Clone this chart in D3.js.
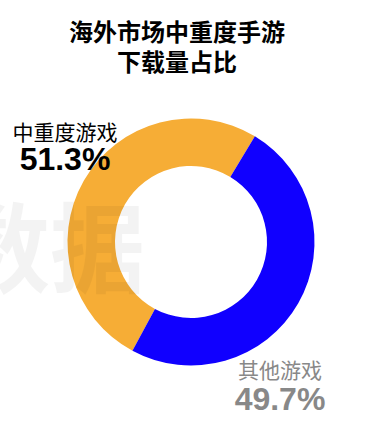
<!DOCTYPE html>
<html>
<head>
<meta charset="utf-8">
<script src="https://cdn.jsdelivr.net/npm/d3@7"></script>
<style>
  body { margin: 0; background: #fff; }
  svg { display: block; }
</style>
</head>
<body>
<svg id="chart" width="379" height="435"></svg>
<script>
// data
var categories = ["中重度游戏", "其他游戏"];
var values = [51.3, 49.7];
var labels = ["51.3%", "49.7%"];
var colors = ["#F6AD36", "#1000FF"];
var titleLines = ["海外市场中重度手游", "下载量占比"];

var svg = d3.select("#chart");
var cjk = "'Noto Sans CJK SC', 'Noto Sans', sans-serif";
var num = "'Liberation Sans', Arial, sans-serif";

// title
svg.selectAll("text.title")
    .data(titleLines)
    .enter()
    .append("text")
    .attr("class", "title")
    .attr("x", 177)
    .attr("y", function(d, i) { return 41 + i * 30; })
    .attr("text-anchor", "middle")
    .style("font-family", cjk)
    .style("font-weight", "bold")
    .style("font-size", "24px")
    .style("fill", "#000")
    .text(function(d) { return d; });

// donut
var cx = 191, cy = 242;
var startA = -151.7 * Math.PI / 180;
var pie = d3.pie()
    .sort(null)
    .startAngle(startA)
    .endAngle(startA + 2 * Math.PI);
var arc = d3.arc().innerRadius(76).outerRadius(123.5);

var g = svg.append("g").attr("transform", "translate(" + cx + "," + cy + ")");
g.selectAll("path")
    .data(pie(values))
    .enter()
    .append("path")
    .attr("d", arc)
    .attr("fill", function(d, i) { return colors[i]; });

// watermark (faint, drawn over the ring)
svg.append("text")
    .attr("x", -45)
    .attr("y", 285)
    .attr("textLength", 190)
    .attr("lengthAdjust", "spacingAndGlyphs")
    .style("font-family", cjk)
    .style("font-weight", "bold")
    .style("font-size", "98px")
    .style("fill", "#000")
    .style("opacity", 0.045)
    .text("数据");

// labels
var labelPos = [[65, 140, 169.5, "#000"], [280, 378, 409.5, "#888"]];
categories.forEach(function(c, i) {
    var p = labelPos[i];
    svg.append("text")
        .attr("x", p[0])
        .attr("y", p[1])
        .attr("text-anchor", "middle")
        .style("font-family", cjk)
        .style("font-size", "21px")
        .style("fill", p[3])
        .text(c);
    svg.append("text")
        .attr("x", p[0])
        .attr("y", p[2])
        .attr("text-anchor", "middle")
        .style("font-family", num)
        .style("font-weight", "bold")
        .style("font-size", "32px")
        .style("fill", p[3])
        .text(labels[i]);
});
</script>
</body>
</html>
